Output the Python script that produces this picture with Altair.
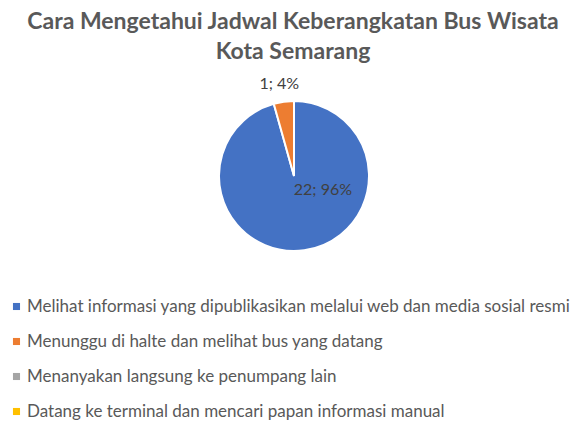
import altair as alt
import pandas as pd

categories = [
    "Melihat informasi yang dipublikasikan melalui web dan media sosial resmi",
    "Menunggu di halte dan melihat bus yang datang",
    "Menanyakan langsung ke penumpang lain",
    "Datang ke terminal dan mencari papan informasi manual",
]
values = [22, 1, 0, 0]
colors = ["#4472C4", "#ED7D31", "#A5A5A5", "#FFC000"]
title_lines = ["Cara Mengetahui Jadwal Keberangkatan Bus Wisata", "Kota Semarang"]

total = sum(values)
df = pd.DataFrame({
    "cat": categories,
    "value": values,
    "idx": list(range(len(categories))),
    "label": [f"{v}; {round(v / total * 100)}%" for v in values],
})

CX, CY, R = 286, 107, 75

base = alt.Chart(df).encode(
    theta=alt.Theta("value:Q", stack=True),
    order=alt.Order("idx:Q"),
)

pie = base.mark_arc(radius=R, stroke="white", strokeWidth=2).encode(
    x=alt.value(CX),
    y=alt.value(CY),
    color=alt.Color(
        "cat:N",
        scale=alt.Scale(domain=categories, range=colors),
        sort=categories,
        legend=alt.Legend(
            title=None,
            orient="none",
            legendX=0,
            legendY=229,
            direction="vertical",
            symbolType="square",
            symbolSize=50,
            symbolStrokeWidth=0,
            labelFontSize=17,
            labelFont="Lato",
            labelColor="#595959",
            labelLimit=700,
            rowPadding=17,
            labelOffset=2,
        ),
    ),
)

lab_big = base.mark_text(radius=14, dx=27, fontSize=16, font="Lato", color="#404040").encode(
    x=alt.value(CX),
    y=alt.value(CY),
    text=alt.condition(alt.datum.idx == 0, "label:N", alt.value("")),
)
lab_small = base.mark_text(radius=93, dx=-2, fontSize=16, font="Lato", color="#404040").encode(
    x=alt.value(CX),
    y=alt.value(CY),
    text=alt.condition(alt.datum.idx == 1, "label:N", alt.value("")),
)

chart = alt.layer(pie, lab_big, lab_small).properties(
    width=570,
    height=342,
    padding={"top": 3, "left": 0, "right": 0, "bottom": 0},
    title=alt.TitleParams(
        text=title_lines[0],
        subtitle=title_lines[1],
        fontSize=23,
        font="Lato",
        fontWeight="bold",
        color="#595959",
        subtitleFontSize=23,
        subtitleFont="Lato",
        subtitleFontWeight="bold",
        subtitleColor="#595959",
        subtitlePadding=7,
        limit=570,
        anchor="middle",
        offset=5,
    ),
).configure_view(stroke=None)

chart.save("out.html", embed_options={"renderer": "svg", "actions": False})
